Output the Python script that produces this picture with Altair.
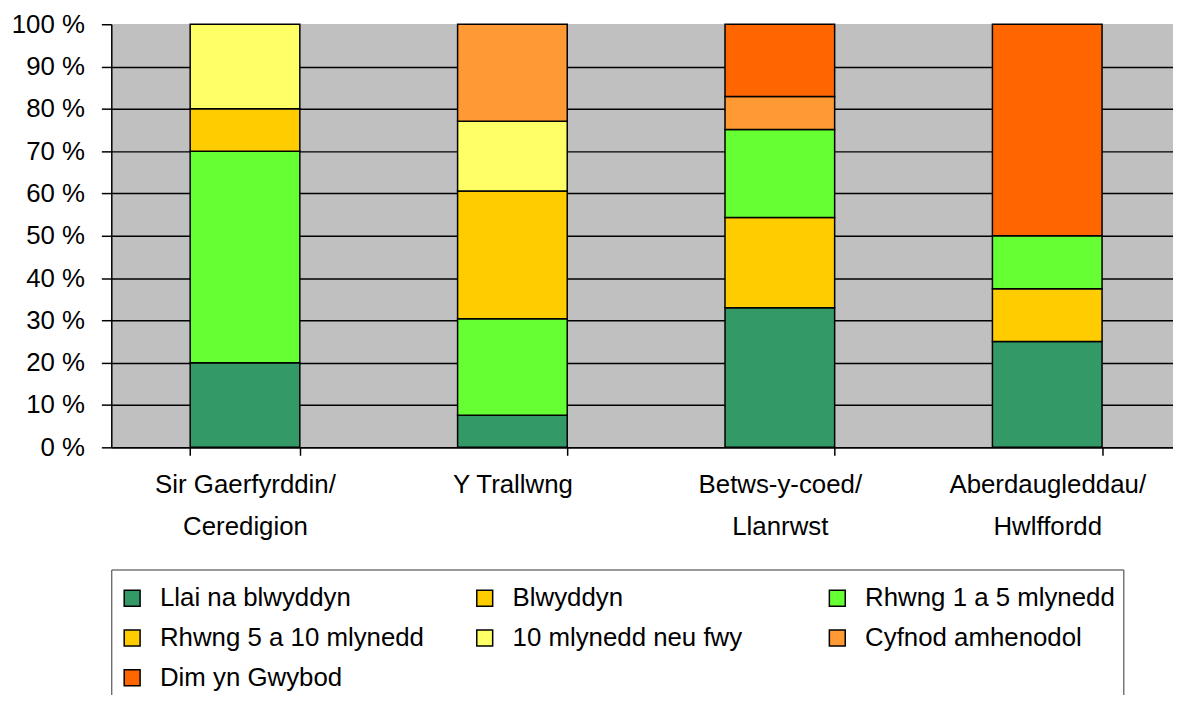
import altair as alt
import pandas as pd

categories = [
    "Sir Gaerfyrddin/Ceredigion",
    "Y Trallwng",
    "Betws-y-coed/Llanrwst",
    "Aberdaugleddau/Hwlffordd",
]
series = [
    "Llai na blwyddyn",
    "Blwyddyn",
    "Rhwng 1 a 5 mlynedd",
    "Rhwng 5 a 10 mlynedd",
    "10 mlynedd neu fwy",
    "Cyfnod amhenodol",
    "Dim yn Gwybod",
]
llai_na_blwyddyn = [20, 7.6, 33.0, 25]
blwyddyn = [0, 0, 21.3, 12.5]
rhwng_1_a_5 = [50, 22.8, 20.8, 12.5]
rhwng_5_a_10 = [10, 30.2, 0, 0]
deg_neu_fwy = [20, 16.5, 0, 0]
cyfnod_amhenodol = [0, 22.9, 7.8, 0]
dim_yn_gwybod = [0, 0, 17.1, 50]
colors = ["#339966", "#FFCC00", "#66FF33", "#FFCC00", "#FFFF66", "#FF9933", "#FF6600"]
y_ticks = [0, 10, 20, 30, 40, 50, 60, 70, 80, 90, 100]

values = [llai_na_blwyddyn, blwyddyn, rhwng_1_a_5, rhwng_5_a_10,
          deg_neu_fwy, cyfnod_amhenodol, dim_yn_gwybod]
rows = []
for si, (name, vals) in enumerate(zip(series, values)):
    for c, v in zip(categories, vals):
        if v > 0:
            rows.append({"category": c, "series": name, "value": v, "idx": si})
df = pd.DataFrame(rows)

FONT = "Liberation Sans"
TEXT = "#000"
label_expr = ("indexof(datum.label, '/') > 0 ? "
              "[slice(datum.label, 0, indexof(datum.label, '/') + 1), "
              "slice(datum.label, indexof(datum.label, '/') + 1)] : datum.label")

chart = alt.Chart(df).mark_bar(stroke="black", strokeWidth=1.5).encode(
    x=alt.X(
        "category:N",
        sort=categories,
        scale=alt.Scale(paddingInner=0.59, paddingOuter=0.295, range=[0, 1077]),
        axis=alt.Axis(
            title=None, labelAngle=0, labelExpr=label_expr,
            labelFont=FONT, labelFontSize=26, labelColor=TEXT,
            labelLineHeight=43, labelPadding=16, labelLimit=400,
            tickBand="extent", tickSize=8, tickColor="black", tickWidth=1.5,
            domainColor="black", domainWidth=1.5, grid=False,
        ),
    ),
    y=alt.Y(
        "value:Q",
        stack="zero",
        scale=alt.Scale(domain=[0, 100], nice=False),
        axis=alt.Axis(
            title=None, values=y_ticks, labelExpr="datum.value + ' %'",
            labelFont=FONT, labelFontSize=26, labelColor=TEXT,
            labelPadding=17, labelBaseline="middle",
            tickSize=10, tickColor="black", tickWidth=1.5,
            domainColor="black", domainWidth=1.5,
            grid=True, gridWidth=1.5,
            gridColor={"condition": {"test": "datum.value >= 100", "value": "#C0C0C0"},
                       "value": "black"},
        ),
    ),
    color=alt.Color(
        "series:N",
        scale=alt.Scale(domain=series, range=colors),
        legend=alt.Legend(
            title=" ", titleFontSize=1, titlePadding=7,
            orient="none", legendX=0, legendY=549,
            direction="horizontal", columns=3, gridAlign="all",
            columnPadding=48, rowPadding=14,
            symbolType="square", symbolSize=256,
            symbolStrokeColor="black", symbolStrokeWidth=1.5,
            labelFont=FONT, labelFontSize=26, labelColor=TEXT,
            labelOffset=15, labelLimit=500,
            strokeColor="#333", fillColor="white", padding=8,
        ),
    ),
    order=alt.Order("idx:Q", sort="ascending"),
).properties(
    width=1069,
    height=426,
    autosize=alt.AutoSizeParams(type="none"),
    padding={"left": 104, "top": 14, "right": 0, "bottom": 247},
).configure_view(fill="#C0C0C0", strokeWidth=0)

chart.save("out.html", embed_options={"renderer": "svg", "actions": False})
